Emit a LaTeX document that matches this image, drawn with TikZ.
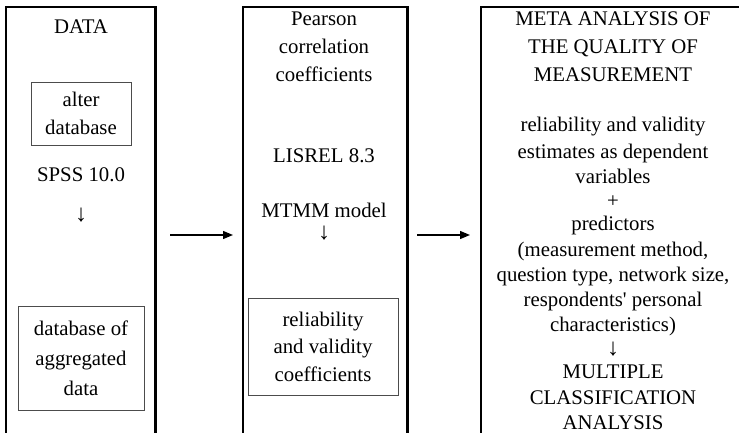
\documentclass[tikz,border=0pt]{standalone}
\usepackage{fontspec}
\setmainfont{Liberation Serif}
\usetikzlibrary{arrows.meta}
\begin{document}
\begin{tikzpicture}[x=1pt,y=-1pt,
  outer/.style={line width=2.6pt, line join=miter},
  colbox/.style={draw=none, inner sep=0pt, anchor=north west, minimum height=440pt},
  inbox/.style={draw=black!70, line width=0.9pt, inner sep=0pt, align=center},
  line/.style={inner sep=0pt, anchor=base, font=\fontsize{20.8}{24.5}\selectfont},
  glyph/.style={line, anchor=center},
  downarrow/.style={inner sep=0pt, anchor=center, font=\fontsize{24}{24}\selectfont},
  flow/.style={line width=1.3pt, -{Triangle[length=10pt,width=8pt]}}
]
\useasboundingbox (0,0) rectangle (739,433);

% column frames (open at the bottom)
\node[colbox, minimum width=149pt] (L) at (6,7) {};
\node[colbox, minimum width=164pt] (M) at (243,7) {};
\node[colbox, minimum width=300pt] (R) at (481,7) {};
\draw[outer] (L.south west) |- (L.north east) -- (L.south east);
\draw[outer] (M.south west) |- (M.north east) -- (M.south east);
\draw[outer] (R.south west) |- (R.north east) -- (R.south east);

% left column
\node[line] (data) at (81,34) {DATA};
\node[inbox, minimum width=100pt, minimum height=63pt,
      font=\fontsize{20.8}{28.5}\selectfont] (alter) at (81,113.5) {alter\\database};
\node[line] (spss) at (81,182) {SPSS 10.0};
\node[downarrow] (ldown) at (81,215) {↓};
\node[inbox, minimum width=126pt, minimum height=104pt,
      font=\fontsize{20.8}{30}\selectfont] (agg) at (81,358) {database of\\aggregated\\data};

% middle column
\node[line] (m1) at (324,26) {Pearson};
\node[line] (m2) at (324,54) {correlation};
\node[line] (m3) at (324,82) {coefficients};
\node[line] (lisrel) at (324,162) {LISREL 8.3};
\node[line] (mtmm) at (324,217) {MTMM model};
\node[downarrow] (mdown) at (324,233) {↓};
\node[inbox, minimum width=150pt, minimum height=97pt,
      font=\fontsize{20.8}{27.5}\selectfont] (rel) at (323,346.5) {reliability\\and validity\\coefficients};

% right column
\node[line] (t1) at (613,26) {META ANALYSIS OF};
\node[line] (t2) at (613,54) {THE QUALITY OF};
\node[line] (t3) at (613,82) {MEASUREMENT};
\node[line] (b1) at (613,132) {reliability and validity};
\node[line] (b2) at (613,158) {estimates as dependent};
\node[line] (b3) at (613,183) {variables};
\node[glyph] (b4) at (613,202) {+};
\node[line] (b5) at (613,230) {predictors};
\node[line] (b6) at (613,256) {(measurement method,};
\node[line] (b7) at (613,281) {question type, network size,};
\node[line] (b8) at (613,306) {respondents\textquotesingle{} personal};
\node[line] (b9) at (613,331) {characteristics)};
\node[downarrow] (b10) at (613,349) {↓};
\node[line] (b11) at (613,378) {MULTIPLE};
\node[line] (b12) at (613,404) {CLASSIFICATION};
\node[line] (b13) at (613,429.5) {ANALYSIS};

% connectors between the columns
\coordinate (row) at (0,235);
\draw[flow, shorten <=15pt, shorten >=10pt] (L.east |- row) -- (M.west |- row);
\draw[flow, shorten <=10pt, shorten >=11pt] (M.east |- row) -- (R.west |- row);
\end{tikzpicture}
\end{document}
